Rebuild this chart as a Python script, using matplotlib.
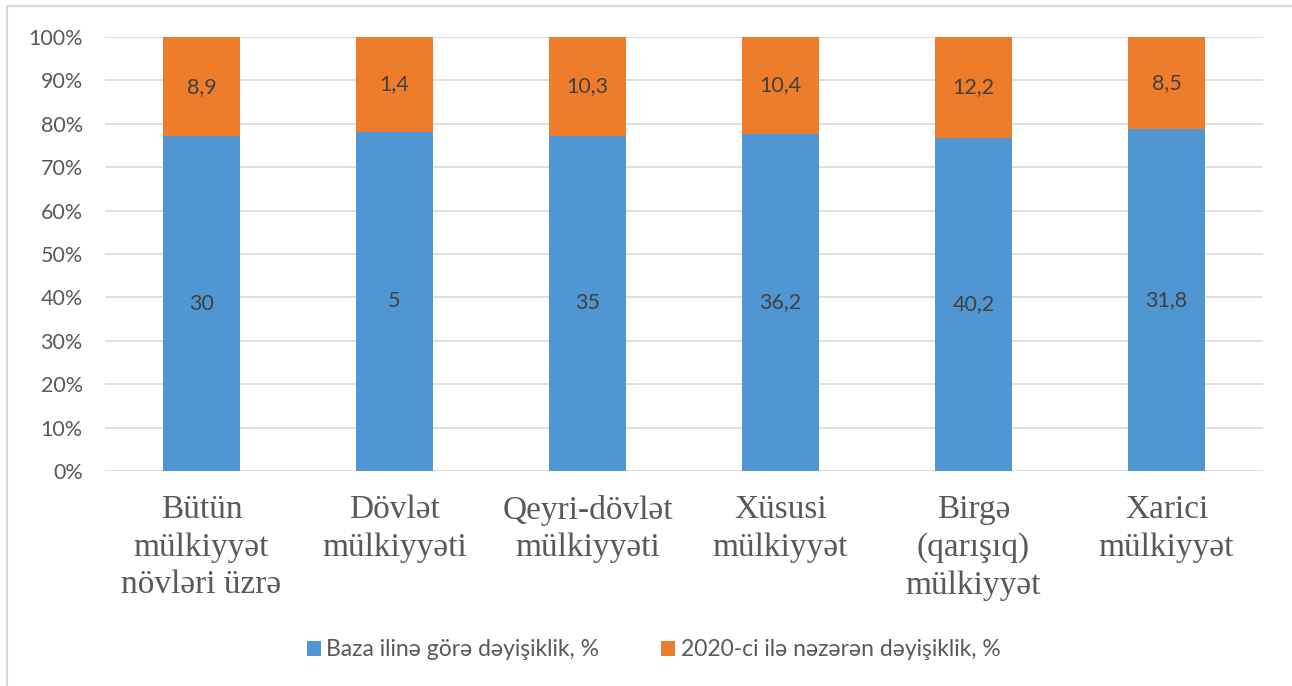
import numpy as np
import matplotlib.pyplot as plt
from matplotlib.lines import Line2D
from matplotlib.patches import Patch

# values shown on the bars
categories = [
    "Bütün\nmülkiyyət\nnövləri üzrə",
    "Dövlət\nmülkiyyəti",
    "Qeyri-dövlət\nmülkiyyəti",
    "Xüsusi\nmülkiyyət",
    "Birgə\n(qarışıq)\nmülkiyyət",
    "Xarici\nmülkiyyət",
]
base_change = [30, 5, 35, 36.2, 40.2, 31.8]
change_2020 = [8.9, 1.4, 10.3, 10.4, 12.2, 8.5]
series_names = ["Baza ilinə görə dəyişiklik, %", "2020-ci ilə nəzərən dəyişiklik, %"]

BLUE = "#5096D3"
ORANGE = "#ED7D2B"
GRID = "#D9D9D9"
TXT = "#595959"
LBL = "#404040"


def fmt(v):
    s = f"{v:g}"
    return s.replace(".", ",")


base = np.array(base_change, dtype=float)
extra = np.array(change_2020, dtype=float)
total = base + extra
base_pct = base / total * 100
extra_pct = extra / total * 100

fig = plt.figure(figsize=(12.92, 6.86), dpi=100)
ax = fig.add_axes([105 / 1292, 1 - 471 / 686, (1263 - 105) / 1292, (471 - 37) / 686])

x = np.arange(len(categories))
w = 0.395
ax.bar(x, base_pct, width=w, color=BLUE, zorder=2)
ax.bar(x, extra_pct, width=w, bottom=base_pct, color=ORANGE, zorder=2)

for i in range(len(x)):
    ax.text(x[i], base_pct[i] / 2, fmt(base[i]), ha="center", va="center",
            fontsize=15.5, color=LBL, family="Lato")
    ax.text(x[i], base_pct[i] + extra_pct[i] / 2, fmt(extra[i]), ha="center",
            va="center", fontsize=15.5, color=LBL, family="Lato")

ax.set_xlim(-0.5, len(categories) - 0.5)
ax.set_ylim(0, 100)
ax.set_yticks(np.arange(0, 101, 10))
ax.set_yticklabels([f"{t}%" for t in range(0, 101, 10)], family="Lato",
                   fontsize=15.5, color=TXT)
ax.set_xticks(x)
ax.set_xticklabels(categories, family="Liberation Serif", fontsize=24,
                   color=TXT, linespacing=1.3)
ax.tick_params(axis="both", length=0)
ax.tick_params(axis="y", pad=16)
ax.tick_params(axis="x", pad=17)
ax.grid(axis="y", color=GRID, linewidth=1.2, zorder=0)
for s in ax.spines.values():
    s.set_visible(False)

handles = [Patch(facecolor=BLUE), Patch(facecolor=ORANGE)]
fig.legend(handles, series_names, loc="center", bbox_to_anchor=(0.506, 1 - 650 / 686),
           ncol=2, frameon=False, handlelength=0.6, handleheight=0.6,
           handletextpad=0.25, columnspacing=2.7,
           prop={"family": "Lato", "size": 16.5}, labelcolor=TXT)

# chart frame (top and left edges visible)
fig.add_artist(Line2D([7 / 1292, 1], [1 - 6 / 686] * 2, color=GRID, lw=1.5,
                      transform=fig.transFigure))
fig.add_artist(Line2D([7 / 1292] * 2, [0, 1 - 6 / 686], color=GRID, lw=1.5,
                      transform=fig.transFigure))

fig.savefig("out.png", dpi=100)
